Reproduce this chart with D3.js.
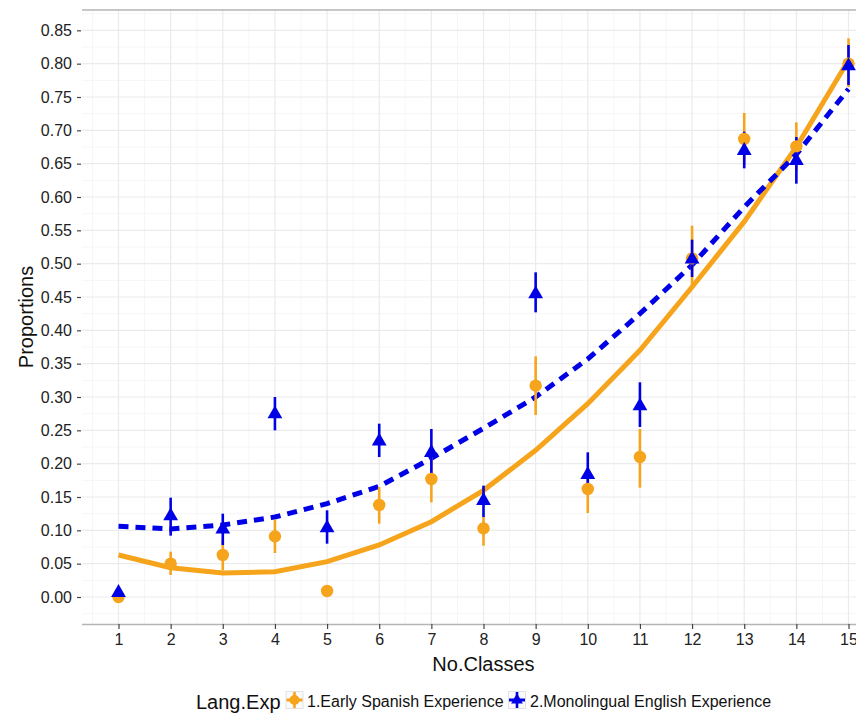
<!DOCTYPE html>
<html>
<head>
<meta charset="utf-8">
<script src="https://cdn.jsdelivr.net/npm/d3@7"></script>
<style>
  body { margin: 0; background: #fff; }
  text { font-family: "Liberation Sans", Arial, sans-serif; }
</style>
</head>
<body>
<div id="chart"></div>
<script>
// data
const classes = [1, 2, 3, 4, 5, 6, 7, 8, 9, 10, 11, 12, 13, 14, 15];
const spanish   = [0.000, 0.050, 0.063, 0.091, 0.009, 0.138, 0.177, 0.103, 0.317, 0.162, 0.210, 0.508, 0.687, 0.676, 0.800];
const spanishLo = [0.000, 0.033, 0.040, 0.066, 0.009, 0.110, 0.142, 0.077, 0.273, 0.126, 0.164, 0.468, 0.648, 0.640, 0.765];
const spanishHi = [0.000, 0.068, 0.086, 0.116, 0.009, 0.165, 0.210, 0.120, 0.361, 0.192, 0.252, 0.557, 0.726, 0.712, 0.838];
const mono      = [0.008, 0.123, 0.103, 0.276, 0.105, 0.235, 0.218, 0.146, 0.456, 0.185, 0.288, 0.508, 0.671, 0.656, 0.798];
const monoLo    = [0.008, 0.092, 0.078, 0.250, 0.080, 0.210, 0.186, 0.120, 0.427, 0.160, 0.255, 0.480, 0.643, 0.620, 0.768];
const monoHi    = [0.008, 0.149, 0.125, 0.300, 0.130, 0.260, 0.252, 0.167, 0.487, 0.217, 0.322, 0.536, 0.698, 0.690, 0.828];
const spanishFit = [0.063, 0.044, 0.036, 0.038, 0.053, 0.078, 0.113, 0.160, 0.220, 0.290, 0.370, 0.465, 0.563, 0.675, 0.805];
const monoFit    = [0.106, 0.102, 0.108, 0.120, 0.140, 0.166, 0.208, 0.253, 0.300, 0.357, 0.425, 0.498, 0.585, 0.664, 0.762];
const yTicks = [0, 0.05, 0.10, 0.15, 0.20, 0.25, 0.30, 0.35, 0.40, 0.45, 0.50, 0.55, 0.60, 0.65, 0.70, 0.75, 0.80, 0.85];
const groups = ["1.Early Spanish Experience", "2.Monolingual English Experience"];

const width = 864, height = 720;
const orange = "#F5A41C", blue = "#0000E6";
const panel = {left: 82, top: 10, bottom: 624, right: 885, cut: 856};

const svg = d3.select("#chart").append("svg")
    .attr("width", width)
    .attr("height", height);

// the picture is cropped on the right
svg.append("clipPath").attr("id", "crop")
    .append("rect").attr("x", 0).attr("y", 0).attr("width", panel.cut).attr("height", height);

const g = svg.append("g").attr("clip-path", "url(#crop)");

const x = d3.scaleLinear().domain([0.3, 15.7]).range([panel.left, panel.right]);
const y = d3.scaleLinear().domain([-0.0405, 0.8805]).range([panel.bottom, panel.top]);

// grid
const yMinor = yTicks.map(t => t + 0.025).concat([-0.025]);
const xMinor = d3.range(0.5, 16, 1);
g.selectAll(".ymin").data(yMinor).enter().append("line")
    .attr("x1", panel.left).attr("x2", panel.right)
    .attr("y1", d => y(d)).attr("y2", d => y(d))
    .attr("stroke", "#f6f6f6").attr("stroke-width", 1);
g.selectAll(".xmin").data(xMinor).enter().append("line")
    .attr("x1", d => x(d)).attr("x2", d => x(d))
    .attr("y1", panel.top).attr("y2", panel.bottom)
    .attr("stroke", "#f6f6f6").attr("stroke-width", 1);
g.selectAll(".ymaj").data(yTicks).enter().append("line")
    .attr("x1", panel.left).attr("x2", panel.right)
    .attr("y1", d => y(d)).attr("y2", d => y(d))
    .attr("stroke", "#ebebeb").attr("stroke-width", 1.2);
g.selectAll(".xmaj").data(classes).enter().append("line")
    .attr("x1", d => x(d)).attr("x2", d => x(d))
    .attr("y1", panel.top).attr("y2", panel.bottom)
    .attr("stroke", "#ebebeb").attr("stroke-width", 1.2);

// top border and bottom axis line
g.append("line")
    .attr("x1", panel.left).attr("x2", panel.right)
    .attr("y1", panel.top).attr("y2", panel.top)
    .attr("stroke", "#b5b5b5").attr("stroke-width", 1.6);

// axes
const xAxis = g.append("g")
    .attr("transform", `translate(0,${panel.bottom})`)
    .call(d3.axisBottom(x).tickValues(classes).tickSize(5).tickPadding(5).tickFormat(d3.format("d")));
xAxis.select(".domain").attr("stroke", "#b5b5b5").attr("stroke-width", 1.6)
    .attr("d", `M${panel.left},0.5H${panel.right}`);
xAxis.selectAll(".tick line").attr("stroke", "#444").attr("stroke-width", 1.2);
xAxis.selectAll(".tick text").attr("font-size", 16).attr("fill", "#222")
    .attr("font-family", "Liberation Sans, Arial, sans-serif");

const yAxis = g.append("g")
    .attr("transform", `translate(${panel.left - 1},0)`)
    .call(d3.axisLeft(y).tickValues(yTicks).tickSize(4).tickPadding(5).tickFormat(d3.format(".2f")));
yAxis.select(".domain").remove();
yAxis.selectAll(".tick line").attr("stroke", "#444").attr("stroke-width", 1.2);
yAxis.selectAll(".tick text").attr("font-size", 16).attr("fill", "#222")
    .attr("font-family", "Liberation Sans, Arial, sans-serif");

// axis titles
g.append("text")
    .attr("x", (panel.left + panel.right) / 2).attr("y", 671)
    .attr("text-anchor", "middle").attr("font-size", 20).attr("fill", "#111")
    .text("No.Classes");
g.append("text")
    .attr("transform", `translate(33,${(panel.top + panel.bottom) / 2}) rotate(-90)`)
    .attr("text-anchor", "middle").attr("font-size", 20).attr("fill", "#111")
    .text("Proportions");

// fitted curves
const plot = g.append("g");
const line = d3.line().x((d, i) => x(classes[i])).y(d => y(d));
plot.append("path").datum(spanishFit)
    .attr("d", line).attr("fill", "none")
    .attr("stroke", orange).attr("stroke-width", 5);
plot.append("path").datum(monoFit)
    .attr("d", line).attr("fill", "none")
    .attr("stroke", blue).attr("stroke-width", 5)
    .attr("stroke-dasharray", "10,7");

// error bars
function errorBars(lo, hi, color) {
    plot.selectAll(null).data(classes).enter().append("line")
        .attr("x1", d => x(d)).attr("x2", d => x(d))
        .attr("y1", (d, i) => y(lo[i])).attr("y2", (d, i) => y(hi[i]))
        .attr("stroke", color).attr("stroke-width", 2.6);
}
errorBars(spanishLo, spanishHi, orange);
errorBars(monoLo, monoHi, blue);

// points
plot.selectAll(".dot").data(classes).enter().append("circle")
    .attr("cx", d => x(d)).attr("cy", (d, i) => y(spanish[i]))
    .attr("r", 6.2).attr("fill", orange);
const tri = d3.symbol().type(d3.symbolTriangle).size(95);
plot.selectAll(".tri").data(classes).enter().append("path")
    .attr("d", tri)
    .attr("transform", (d, i) => `translate(${x(d)},${y(mono[i]) + 1})`)
    .attr("fill", blue);

// legend
const legend = svg.append("g").attr("transform", "translate(0,709)");
legend.append("text").attr("x", 196).attr("y", 0)
    .attr("font-size", 20).attr("fill", "#111").text("Lang.Exp");

function legendKey(x0, color, shape) {
    const k = legend.append("g").attr("transform", `translate(${x0},-9)`);
    k.append("rect").attr("x", -8.5).attr("y", -8.5).attr("width", 17).attr("height", 17)
        .attr("fill", "#fafafa").attr("stroke", "#e2e2e2").attr("stroke-width", 1);
    k.append("line").attr("x1", -8).attr("x2", 8).attr("y1", 0).attr("y2", 0)
        .attr("stroke", color).attr("stroke-width", 3);
    k.append("line").attr("x1", 0).attr("x2", 0).attr("y1", -8).attr("y2", 8)
        .attr("stroke", color).attr("stroke-width", 2.6);
    if (shape === "circle") {
        k.append("circle").attr("r", 5).attr("fill", color);
    } else {
        k.append("path").attr("d", d3.symbol().type(d3.symbolTriangle).size(60)).attr("fill", color);
    }
}
legendKey(294.5, orange, "circle");
legend.append("text").attr("x", 307).attr("y", -2)
    .attr("font-size", 16).attr("fill", "#111").text(groups[0]);
legendKey(517, blue, "triangle");
legend.append("text").attr("x", 530).attr("y", -2)
    .attr("font-size", 16).attr("fill", "#111").text(groups[1]);
</script>
</body>
</html>
